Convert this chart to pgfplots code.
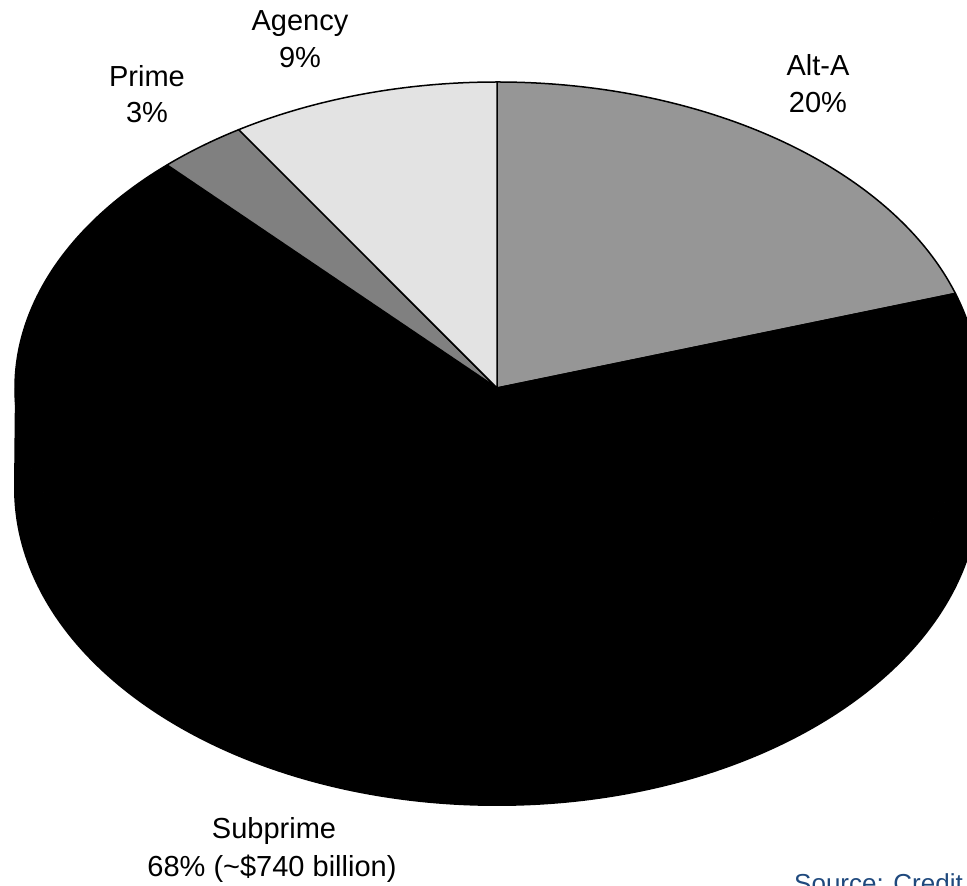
\documentclass[border=0pt]{standalone}
\usepackage{fontspec}
\setmainfont{Liberation Sans}
\usepackage{pgfplots}
\usepackage{pgfplotstable}
\pgfplotsset{compat=1.18}

% slice colours, in table order
\definecolor{slice0}{RGB}{150,150,150}
\definecolor{slice1}{RGB}{0,0,0}
\definecolor{slice2}{RGB}{128,128,128}
\definecolor{slice3}{RGB}{227,227,227}
\definecolor{srcblue}{RGB}{31,73,125}

% share of the total, in percent, clockwise from 12 o'clock
\pgfplotstableread{
label     value
Alt-A     20
Subprime  68
Prime     3
Agency    9
}\sharetable

\begin{document}
\begin{tikzpicture}
% start and end angle of every slice
\pgfplotstablegetrowsof{\sharetable}
\pgfmathtruncatemacro{\nslices}{\pgfplotsretval-1}
\def\runangle{90}
\pgfplotsforeachungrouped \i in {0,...,\nslices}{%
  \pgfplotstablegetelem{\i}{value}\of\sharetable
  \pgfmathsetmacro{\endangle}{\runangle-3.6*\pgfplotsretval}%
  \expandafter\xdef\csname slicestart\i\endcsname{\runangle}%
  \expandafter\xdef\csname sliceend\i\endcsname{\endangle}%
  \xdef\runangle{\endangle}%
}
\begin{axis}[
  x=1pt, y=1pt,
  xmin=0, xmax=967, ymin=0, ymax=886,
  hide axis, clip=true,
]
% side wall of the tilted pie
\fill[black] (axis cs:979,498)
  arc[start angle=0, end angle=-180, x radius=482pt, y radius=306pt]
  -- (axis cs:14,398)
  arc[start angle=180, end angle=360, x radius=483pt, y radius=318pt]
  -- cycle;
% top faces of the slices
\pgfplotsinvokeforeach{0,...,\nslices}{
  \filldraw[fill=slice#1, draw=black, line width=1.5pt, line join=round]
    (axis cs:497,498)
    -- (axis cs:{497+482*cos(\csname slicestart#1\endcsname)},{498+306*sin(\csname slicestart#1\endcsname)})
    arc[start angle=\csname slicestart#1\endcsname, end angle=\csname sliceend#1\endcsname,
        x radius=482pt, y radius=306pt]
    -- cycle;
}
% labels
\begin{scope}[every node/.style={font=\fontsize{29}{35}\selectfont, anchor=base, inner sep=0pt}]
\node at (axis cs:300,855) {Agency};
\node at (axis cs:300,818) {9\%};
\node at (axis cs:147,799) {Prime};
\node at (axis cs:147,763) {3\%};
\node at (axis cs:818,810) {Alt-A};
\node at (axis cs:818,773) {20\%};
\node at (axis cs:274,47) {Subprime};
\node at (axis cs:272,9) {68\% (\textasciitilde\$740 billion)};
\end{scope}
\node[font=\fontsize{26}{31}\selectfont, text=srcblue, anchor=base west, inner sep=0pt]
  at (axis cs:794,-7) {Source: Credit Suisse};
\end{axis}
\pgfresetboundingbox
\path[use as bounding box] (current axis.south west) rectangle (current axis.north east);
\end{tikzpicture}
\end{document}
